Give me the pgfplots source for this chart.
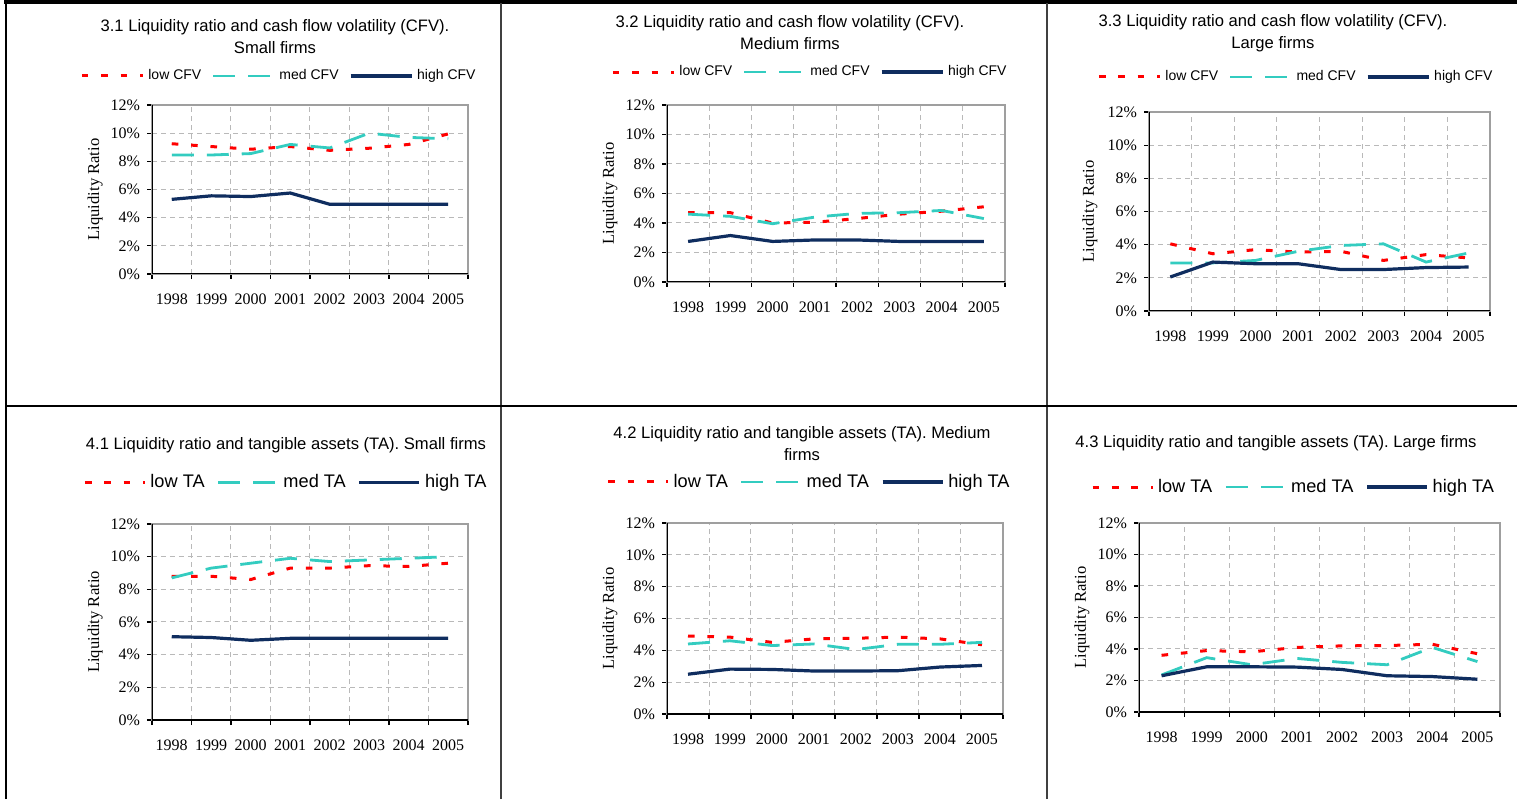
\documentclass[border=0pt]{standalone}
\usepackage{fontspec}
\setmainfont{Liberation Sans}
\newfontfamily\serif{Liberation Serif}
\usepackage{pgfplots}
\pgfplotsset{compat=1.18}
\definecolor{lowc}{RGB}{255,0,0}
\definecolor{medc}{RGB}{51,204,192}
\definecolor{highc}{RGB}{15,45,95}

\pgfplotsset{
 panel/.style={
  scale only axis,
  anchor=south west,
  xmin=-0.5, xmax=7.5, ymin=0, ymax=12,
  xtick={-0.5,0.5,1.5,2.5,3.5,4.5,5.5,6.5,7.5},
  x tick label as interval,
  xticklabels={1998,1999,2000,2001,2002,2003,2004,2005},
  ytick={0,2,4,6,8,10,12},
  yticklabels={0\%,2\%,4\%,6\%,8\%,10\%,12\%},
  xmajorgrids, ymajorgrids,
  grid style={gray!55, dash pattern=on 2.5pt off 2pt, line width=0.5pt},
  axis line style={gray!75, line width=0.6pt},
  tick align=outside, tick pos=left,
  major tick length=2.5pt,
  tick style={black, line width=0.6pt},
  tick label style={font=\serif\fontsize{8}{9}\selectfont},
  xticklabel style={yshift=-4pt},
  ylabel={Liquidity Ratio},
  ylabel style={font=\serif\fontsize{8.3}{10}\selectfont, anchor=center},
  legend columns=3,
  legend style={draw=none, fill=none, anchor=center, inner sep=0pt},
 },
 lowst/.style={lowc, line width=1.5pt, dash pattern=on 3.3pt off 6.4pt},
 medst/.style={medc, line width=1.4pt, dash pattern=on 11pt off 6.5pt},
 highst/.style={highc, line width=1.6pt},
 topleg/.style={legend style={font=\fontsize{7}{9}\selectfont,
     /tikz/every even column/.append style={column sep=3.2pt}},
   legend image code/.code={\draw[##1] (0pt,0pt) -- (30.5pt,0pt);}},
 botleg/.style={legend style={font=\fontsize{9.1}{11}\selectfont,
     /tikz/every even column/.append style={column sep=4pt}},
   legend image code/.code={\draw[##1] (0pt,0pt) -- (30pt,0pt);}},
}
\newcommand{\blackaxes}{\draw[black, line width=0.7pt] (rel axis cs:0,1) -- (rel axis cs:0,0) -- (rel axis cs:1,0);}

\begin{document}
\begin{tikzpicture}
\useasboundingbox (0,0) rectangle (758.5pt,399.5pt);
\fill[white] (0,0) rectangle (758.5pt,399.5pt);
% table lines
\draw[black, line width=1.6pt] (2pt,398.5pt) -- (758.5pt,398.5pt);
\draw[black, line width=1.1pt] (2.8pt,0pt) -- (2.8pt,399pt);
\draw[black!75, line width=1.1pt] (250.5pt,0pt) -- (250.5pt,398pt);
\draw[black!75, line width=1.1pt] (523.5pt,0pt) -- (523.5pt,398pt);
\draw[black, line width=1.1pt] (2.8pt,196.5pt) -- (758.5pt,196.5pt);

% titles
\begin{scope}[every node/.style={align=center, font=\fontsize{8.3}{11}\selectfont}]
\node at (137.5pt,381pt) {3.1 Liquidity ratio and cash flow volatility (CFV).\\Small firms};
\node at (395pt,383pt) {3.2 Liquidity ratio and cash flow volatility (CFV).\\Medium firms};
\node at (636.5pt,383pt) {3.3 Liquidity ratio and cash flow volatility (CFV).\\Large firms};
\node at (143pt,177pt) {4.1 Liquidity ratio and tangible assets (TA). Small firms};
\node at (401pt,177.5pt) {4.2 Liquidity ratio and tangible assets (TA). Medium\\firms};
\node at (638pt,178pt) {4.3 Liquidity ratio and tangible assets (TA). Large firms};
\end{scope}

% ---- 3.1
\begin{axis}[panel, topleg, at={(76pt,262.5pt)}, width=158pt, height=84.5pt,
  ylabel style={at={(axis description cs:-0.180,0.5)}},
  legend style={at={(axis description cs:0.405,1.172)}}]
\addplot[lowst] coordinates {(0,9.25) (1,9.05) (2,8.86) (3,9.05) (4,8.78) (5,8.93) (6,9.2) (7,9.95)};
\addplot[medst] coordinates {(0,8.45) (1,8.45) (2,8.55) (3,9.2) (4,8.95) (5,10.0) (6,9.7) (7,9.6)};
\addplot[highst] coordinates {(0,5.3) (1,5.55) (2,5.5) (3,5.75) (4,4.95) (5,4.95) (6,4.95) (7,4.95)};
\legend{low CFV, med CFV, high CFV}
\blackaxes
\end{axis}

% ---- 3.2
\begin{axis}[panel, topleg, at={(333.5pt,258.5pt)}, width=169pt, height=88.5pt,
  ylabel style={at={(axis description cs:-0.169,0.5)}},
  legend style={at={(axis description cs:0.426,1.186)}}]
\addplot[lowst] coordinates {(0,4.7) (1,4.7) (2,4.0) (3,4.05) (4,4.3) (5,4.6) (6,4.8) (7,5.1)};
\addplot[medst] coordinates {(0,4.6) (1,4.45) (2,3.95) (3,4.4) (4,4.65) (5,4.7) (6,4.85) (7,4.3)};
\addplot[highst] coordinates {(0,2.75) (1,3.15) (2,2.75) (3,2.85) (4,2.85) (5,2.75) (6,2.75) (7,2.75)};
\legend{low CFV, med CFV, high CFV}
\blackaxes
\end{axis}

% ---- 3.3
\begin{axis}[panel, topleg, at={(574.5pt,244pt)}, width=170.5pt, height=99.5pt,
  ylabel style={at={(axis description cs:-0.173,0.5)}},
  legend style={at={(axis description cs:0.434,1.176)}}]
\addplot[lowst] coordinates {(0,4.05) (1,3.45) (2,3.7) (3,3.55) (4,3.6) (5,3.05) (6,3.4) (7,3.2)};
\addplot[medst] coordinates {(0,2.9) (1,2.9) (2,3.05) (3,3.6) (4,3.95) (5,4.05) (6,2.95) (7,3.5)};
\addplot[highst] coordinates {(0,2.05) (1,2.95) (2,2.85) (3,2.85) (4,2.5) (5,2.5) (6,2.62) (7,2.65)};
\legend{low CFV, med CFV, high CFV}
\blackaxes
\end{axis}

% ---- 4.1
\begin{axis}[panel, botleg, at={(76pt,39.5pt)}, width=158pt, height=98pt,
  ylabel style={at={(axis description cs:-0.180,0.5)}},
  legend style={at={(axis description cs:0.427,1.212)}}]
\addplot[lowst] coordinates {(0,8.8) (1,8.8) (2,8.6) (3,9.3) (4,9.3) (5,9.45) (6,9.4) (7,9.6)};
\addplot[medst] coordinates {(0,8.7) (1,9.3) (2,9.6) (3,9.9) (4,9.7) (5,9.8) (6,9.9) (7,10.0)};
\addplot[highst] coordinates {(0,5.1) (1,5.05) (2,4.88) (3,5.0) (4,5.0) (5,5.0) (6,5.0) (7,5.0)};
\legend{low TA, med TA, high TA}
\blackaxes
\end{axis}

% ---- 4.2
\begin{axis}[panel, botleg, at={(333.5pt,42.5pt)}, width=168pt, height=95.5pt,
  ylabel style={at={(axis description cs:-0.170,0.5)}},
  legend style={at={(axis description cs:0.426,1.215)}}]
\addplot[lowst] coordinates {(0,4.9) (1,4.83) (2,4.5) (3,4.72) (4,4.76) (5,4.83) (6,4.72) (7,4.35)};
\addplot[medst] coordinates {(0,4.4) (1,4.6) (2,4.3) (3,4.4) (4,4.05) (5,4.38) (6,4.38) (7,4.5)};
\addplot[highst] coordinates {(0,2.5) (1,2.82) (2,2.8) (3,2.7) (4,2.7) (5,2.72) (6,2.95) (7,3.05)};
\legend{low TA, med TA, high TA}
\blackaxes
\end{axis}

% ---- 4.3
\begin{axis}[panel, botleg, at={(569.5pt,43.5pt)}, width=180.5pt, height=94.5pt,
  ylabel style={at={(axis description cs:-0.158,0.5)}},
  legend style={at={(axis description cs:0.431,1.19)}}]
\addplot[lowst] coordinates {(0,3.6) (1,3.9) (2,3.82) (3,4.1) (4,4.2) (5,4.22) (6,4.3) (7,3.7)};
\addplot[medst] coordinates {(0,2.35) (1,3.45) (2,3.0) (3,3.4) (4,3.15) (5,3.0) (6,4.1) (7,3.2)};
\addplot[highst] coordinates {(0,2.3) (1,2.87) (2,2.87) (3,2.85) (4,2.7) (5,2.3) (6,2.25) (7,2.08)};
\legend{low TA, med TA, high TA}
\blackaxes
\end{axis}
\end{tikzpicture}
\end{document}
